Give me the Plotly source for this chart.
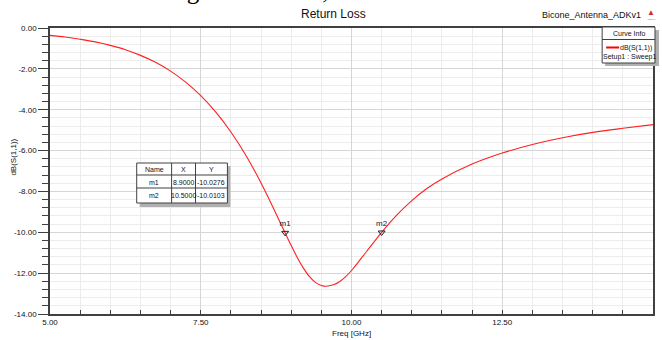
import plotly.graph_objects as go

# ---------------- data ----------------
freq = [5.0, 5.25, 5.5, 5.75, 6.0, 6.25, 6.5, 6.75, 7.0, 7.25, 7.5, 7.75, 8.0, 8.25, 8.5,
        8.75, 8.9, 9.0, 9.1, 9.2, 9.3, 9.4, 9.5, 9.57, 9.7, 9.8, 9.9, 10.0, 10.1, 10.25,
        10.5, 10.75, 11.0, 11.25, 11.5, 12.0, 12.5, 13.0, 13.5, 14.0, 14.5, 15.0]
s11_db = [-0.36, -0.44, -0.55, -0.68, -0.85, -1.06, -1.34, -1.68, -2.11, -2.65, -3.31,
          -4.12, -5.09, -6.24, -7.59, -9.10, -10.03, -10.65, -11.23, -11.74, -12.16,
          -12.45, -12.60, -12.64, -12.57, -12.42, -12.18, -11.87, -11.51, -10.94, -10.00,
          -9.16, -8.45, -7.86, -7.39, -6.66, -6.12, -5.70, -5.37, -5.11, -4.91, -4.73]

marker_names = ["m1", "m2"]
marker_x = [8.9, 10.5]
marker_y = [-10.0276, -10.0103]

x_tickvals = [5.0, 7.5, 10.0, 12.5, 15.0]
x_ticktext = ["5.00", "7.50", "10.00", "12.50", "15.00"]
y_tickvals = [0, -2, -4, -6, -8, -10, -12, -14]
y_ticktext = ["0.00", "-2.00", "-4.00", "-6.00", "-8.00", "-10.00", "-12.00", "-14.00"]

# ---------------- layout geometry ----------------
W, H = 662, 340
ML, MR, MT, MB = 50, 7, 28, 26
PW = W - ML - MR
PH = H - MT - MB


def px(x):
    return (x - ML) / PW


def py(y):
    return (H - MB - y) / PH


FONT = "Liberation Sans Narrow, Liberation Sans, Arial, sans-serif"
AXC = "#404040"

fig = go.Figure()

fig.add_trace(go.Scatter(
    x=freq, y=s11_db, mode="lines", line=dict(color="#ff2020", width=1.1, shape="spline", smoothing=1.0),
    hoverinfo="skip", showlegend=False))

fig.add_trace(go.Scatter(
    x=marker_x, y=marker_y, mode="markers+text", text=marker_names,
    textposition="top center", textfont=dict(size=8, color="#222", family=FONT),
    marker=dict(symbol="triangle-down-open", size=6, color="#222", line=dict(width=1)),
    showlegend=False, hoverinfo="skip", cliponaxis=False))

shapes = []
annotations = []


def rect(x0, y0, x1, y1, fill="white", line="#404040", lw=1):
    shapes.append(dict(type="rect", xref="paper", yref="paper", x0=px(x0), x1=px(x1),
                       y0=py(y1), y1=py(y0), fillcolor=fill, line=dict(color=line, width=lw), layer="above"))


def hline(x0, x1, y, color="#404040", lw=1):
    shapes.append(dict(type="line", xref="paper", yref="paper", x0=px(x0), x1=px(x1),
                       y0=py(y), y1=py(y), line=dict(color=color, width=lw), layer="above"))


def vline(x, y0, y1, color="#404040", lw=1):
    shapes.append(dict(type="line", xref="paper", yref="paper", x0=px(x), x1=px(x),
                       y0=py(y0), y1=py(y1), line=dict(color=color, width=lw), layer="above"))


def text(x, y, s, size=8, xanchor="center", yanchor="middle", color="#111", family=FONT, angle=0):
    annotations.append(dict(x=px(x), y=py(y), xref="paper", yref="paper", text=s, showarrow=False,
                            xanchor=xanchor, yanchor=yanchor, textangle=angle,
                            font=dict(size=size, color=color, family=family)))


# marker table (with shadow)
rect(140, 166, 231, 207, fill="#b0b0b0", line="rgba(0,0,0,0)")
rect(137, 163, 228, 203, fill="white", line="#404040")
hline(137, 228, 175)
hline(137, 228, 188)
vline(172, 163, 203)
vline(196, 163, 203)
text(154.5, 169, "Name", size=7)
text(184, 169, "X", size=7)
text(212, 169, "Y", size=7)
text(154.5, 182, marker_names[0], size=7)
text(184, 182, "%.4f" % marker_x[0], size=7)
text(212, 182, "%.4f" % marker_y[0], size=7)
text(154.5, 195.5, marker_names[1], size=7)
text(184, 195.5, "%.4f" % marker_x[1], size=7)
text(212, 195.5, "%.4f" % marker_y[1], size=7)

# curve info box (with shadow)
rect(607, 30, 661, 66, fill="#b0b0b0", line="rgba(0,0,0,0)")
rect(604, 27, 657, 63, fill="white", line="#404040")
hline(604, 657, 39.5)
text(630.5, 33, "Curve Info", size=7)
hline(608, 621, 47.5, color="#ff0000", lw=2)
text(656, 47.5, "dB(S(1,1))", size=7, xanchor="right")
text(631, 57.5, "Setup1 : Sweep1", size=7)

# titles
text(334, 14, "Return Loss", size=12, family="Liberation Sans, Arial, sans-serif")
text(645, 15, "Bicone_Antenna_ADKv1", size=9, xanchor="right")
text(653, 13, "▲", size=8, color="#d03030")
text(653, 19, "ANSOFT", size=2, color="#d03030")
text(352, 333, "Freq [GHz]", size=8)
text(12.5, 157, "dB(S(1,1))", size=8, angle=-90)

# partially visible caption above the chart (cut off at the top edge, as in the reference)
text(-2, 6, "Return loss of fussgram antenna,", size=25, xanchor="left", yanchor="bottom",
     color="#000", family="Liberation Serif, Times New Roman, serif")

fig.update_layout(
    width=W, height=H,
    margin=dict(l=ML, r=MR, t=MT, b=MB),
    paper_bgcolor="white", plot_bgcolor="white",
    showlegend=False,
    shapes=shapes, annotations=annotations,
    xaxis=dict(range=[5, 15], tickvals=x_tickvals, ticktext=x_ticktext,
               ticks="inside", ticklen=4, tickcolor=AXC,
               showline=True, linecolor=AXC, linewidth=1.5, mirror=True,
               showgrid=True, gridcolor="#d6d6d6", gridwidth=1, zeroline=False,
               tickfont=dict(size=8, family=FONT, color="#111"),
               minor=dict(dtick=0.5, tick0=5, ticks="inside", ticklen=4, tickcolor=AXC,
                          showgrid=True, gridcolor="#ececec", gridwidth=1)),
    yaxis=dict(range=[-14, 0], tickvals=y_tickvals, ticktext=y_ticktext,
               ticks="outside", ticklen=10, tickcolor=AXC,
               showline=True, linecolor=AXC, linewidth=1.5, mirror=True,
               showgrid=True, gridcolor="#d6d6d6", gridwidth=1, zeroline=False,
               tickfont=dict(size=8, family=FONT, color="#111"),
               minor=dict(dtick=0.4, tick0=0, ticks="outside", ticklen=6, tickcolor=AXC,
                          showgrid=True, gridcolor="#ececec", gridwidth=1)),
)

fig.write_html("out.html")
